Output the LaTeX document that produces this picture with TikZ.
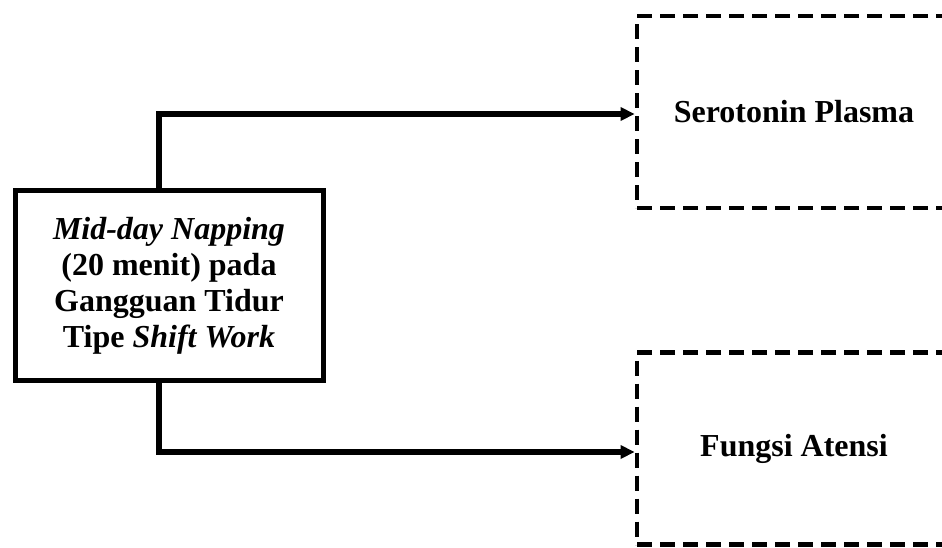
\documentclass[tikz,border=0pt]{standalone}
\usepackage{fontspec}
\setmainfont{Liberation Serif}
\usetikzlibrary{arrows.meta}
\tikzset{
    line cap=butt,line join=miter,
    solid box/.style={draw, line width=2.5pt, align=center, font=\fontsize{16}{18}\selectfont\bfseries,
        minimum width=154pt, minimum height=95pt, inner sep=0pt},
    dash box/.style={draw, line width=2.4pt, dash pattern=on 7.5pt off 4pt, align=center,
        font=\fontsize{16}{18}\selectfont\bfseries, minimum width=157pt, minimum height=96pt, inner sep=0pt},
    link/.style={line width=2.6pt, -{Triangle[length=7pt,width=6.5pt]}},
}
\begin{document}
\begin{tikzpicture}[x=0.5pt,y=-0.5pt]
    \useasboundingbox (0,0) rectangle (942,547);
    \clip (0,0) rectangle (942,547);
    \node [solid box] (napping) at (169,285.5)
    {\textit{Mid-day Napping}\\(20 menit) pada\\Gangguan Tidur\\Tipe \textit{Shift Work}};
    \node [dash box] (serotonin) at (794,112) {Serotonin Plasma};
    \node [dash box] (atensi) at (794,448.5) {Fungsi Atensi};

    \draw [link] ([xshift=-5pt]napping.north) |- ([yshift=-1pt]serotonin.west);
    \draw [link] ([xshift=-5pt]napping.south) |- ([yshift=-1.75pt]atensi.west);
\end{tikzpicture}
\end{document}
